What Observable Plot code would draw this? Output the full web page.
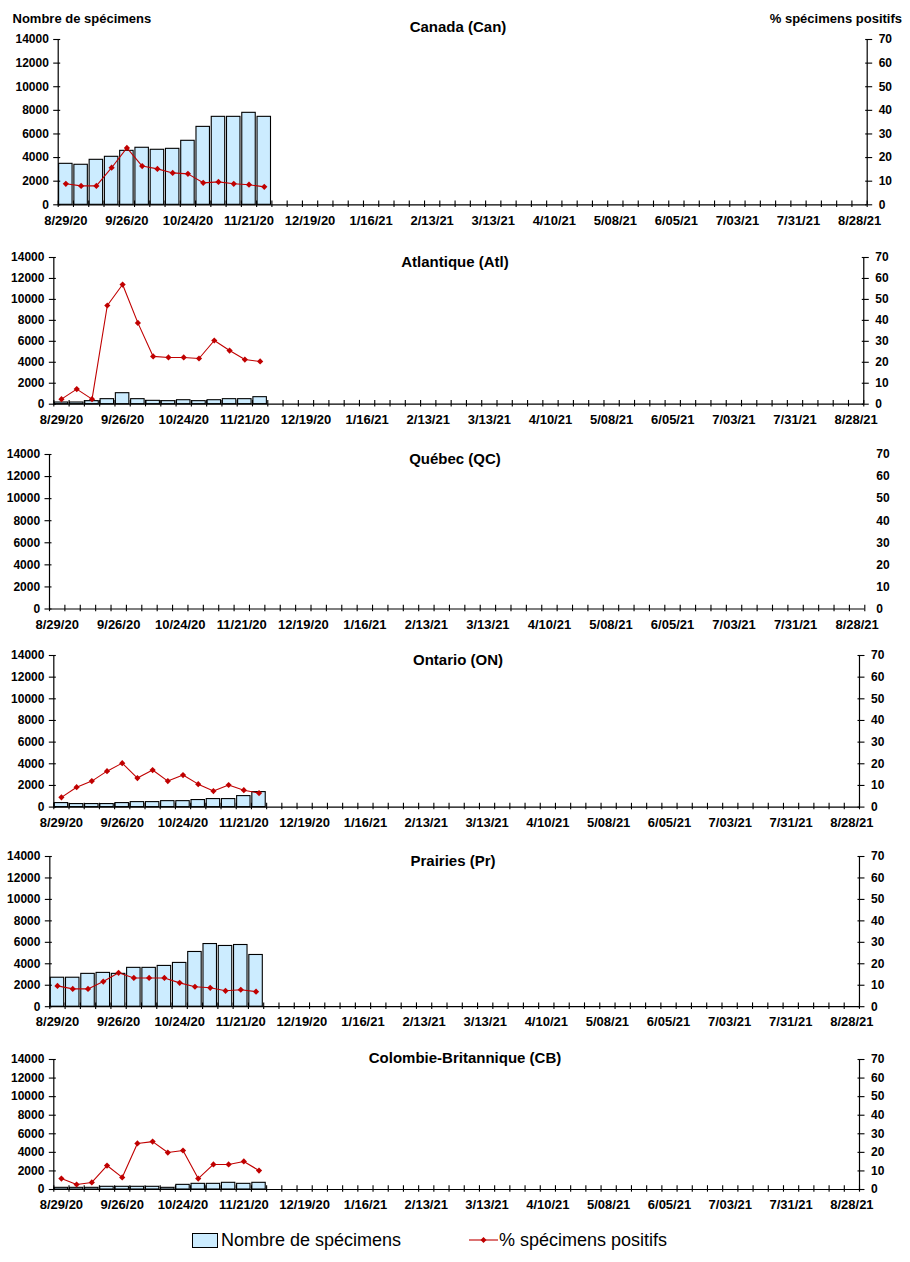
<!DOCTYPE html>
<html><head><meta charset="utf-8">
<script src="https://cdn.jsdelivr.net/npm/d3@7"></script>
<script src="https://cdn.jsdelivr.net/npm/@observablehq/plot@0.6"></script>
<style>
body{margin:0;background:#fff;}
#root{position:relative;width:910px;height:1262px;font-family:"Liberation Sans",Arial,sans-serif;color:#000;overflow:hidden;background:#fff}
.abs{position:absolute;white-space:nowrap;line-height:1}
</style></head><body><div id="root"></div>
<script>
const weeks = ["8/29/20","9/05/20","9/12/20","9/19/20","9/26/20","10/03/20","10/10/20","10/17/20","10/24/20","10/31/20","11/07/20","11/14/20","11/21/20","11/28/20","12/05/20","12/12/20","12/19/20","12/26/20","1/02/21","1/09/21","1/16/21","1/23/21","1/30/21","2/06/21","2/13/21","2/20/21","2/27/21","3/06/21","3/13/21","3/20/21","3/27/21","4/03/21","4/10/21","4/17/21","4/24/21","5/01/21","5/08/21","5/15/21","5/22/21","5/29/21","6/05/21","6/12/21","6/19/21","6/26/21","7/03/21","7/10/21","7/17/21","7/24/21","7/31/21","8/07/21","8/14/21","8/21/21","8/28/21"];
const tickLabels = ["8/29/20","9/26/20","10/24/20","11/21/20","12/19/20","1/16/21","2/13/21","3/13/21","4/10/21","5/08/21","6/05/21","7/03/21","7/31/21","8/28/21"];
const yTicks = [0,2000,4000,6000,8000,10000,12000,14000];
const countMax = 14000;
const pctMax = 70;

const canCounts = [3470,3390,3810,4065,4570,4830,4660,4740,5420,6600,7450,7450,7790,7450];
const canPct    = [8.9,8.0,8.0,15.7,24.1,16.4,15.2,13.5,13.1,9.3,9.7,8.9,8.5,7.6];
const atlCounts = [160,160,290,480,1050,480,320,290,380,290,380,480,480,670];
const atlPct    = [2.4,7.2,2.4,47.1,57.1,38.8,22.8,22.3,22.3,21.8,30.4,25.6,21.3,20.4];
const qcCounts  = [];
const qcPct     = [];
const onCounts  = [370,280,280,280,370,460,460,550,550,650,740,740,1015,1385];
const onPct     = [4.5,9.2,12.0,16.6,20.3,13.4,17.1,12.0,14.8,10.6,7.4,10.2,7.8,6.5];
const prCounts  = [2700,2700,3060,3150,3060,3620,3620,3800,4080,5100,5840,5660,5750,4820];
const prPct     = [9.7,8.3,8.3,11.7,15.8,13.4,13.4,13.4,11.1,9.3,8.8,7.4,7.9,7.0];
const cbCounts  = [180,180,180,290,290,290,290,180,500,610,610,720,610,720];
const cbPct     = [5.9,2.7,3.8,12.9,6.5,24.8,25.8,19.9,21.0,5.9,13.5,13.5,15.1,10.2];

const titles = ["Canada (Can)","Atlantique (Atl)","Québec (QC)","Ontario (ON)","Prairies (Pr)","Colombie-Britannique (CB)"];
const leftTitle = "Nombre de spécimens";
const rightTitle = "% spécimens positifs";
const legendBar = "Nombre de spécimens";
const legendLine = "% spécimens positifs";

const BAR_FILL = "#CCECFF";
const RED = "#C00000";
const FONT = "'Liberation Sans', Arial, sans-serif";

const panels = [
  {title: titles[0], counts: canCounts, pct: canPct, left: 57.7, right: 866.7, top: 39, bottom: 204.3, tx: 458, ty: 32, rightAxis: true},
  {title: titles[1], counts: atlCounts, pct: atlPct, left: 53.3, right: 863.3, top: 257.3, bottom: 404, tx: 455, ty: 267, rightAxis: true},
  {title: titles[2], counts: qcCounts, pct: qcPct, left: 49, right: 864.3, top: 454, bottom: 608.5, tx: 455, ty: 464, rightAxis: false},
  {title: titles[3], counts: onCounts, pct: onPct, left: 53.3, right: 859, top: 654.7, bottom: 806.3, tx: 458, ty: 665, rightAxis: true},
  {title: titles[4], counts: prCounts, pct: prPct, left: 49.3, right: 859, top: 856.3, bottom: 1006.5, tx: 453, ty: 866, rightAxis: true},
  {title: titles[5], counts: cbCounts, pct: cbPct, left: 53.3, right: 859, top: 1059.3, bottom: 1189.3, tx: 465, ty: 1063, rightAxis: true}
];

const root = document.getElementById("root");

function addText(txt, x, baseline, size, weight, anchor) {
  const d = document.createElement("div");
  d.className = "abs";
  d.textContent = txt;
  d.style.fontSize = size + "px";
  d.style.fontWeight = weight;
  d.style.left = x + "px";
  d.style.top = (baseline - 0.8465 * size) + "px";
  if (anchor === "middle") d.style.transform = "translateX(-50%)";
  if (anchor === "end") d.style.transform = "translateX(-100%)";
  root.appendChild(d);
  return d;
}

function makePanel(p) {
  const rows = p.counts.map((v, i) => ({week: weeks[i], i: weeks.indexOf(weeks[i]), count: v, pct: p.pct[i]}));
  const mt = 12, mb = 34;
  const h = mt + (p.bottom - p.top) + mb;
  const toY = d => d.pct * countMax / pctMax;
  const chart = Plot.plot({
    width: 910,
    height: h,
    marginTop: mt,
    marginBottom: mb,
    marginLeft: p.left,
    marginRight: 910 - p.right,
    style: {background: "transparent", overflow: "visible", fontFamily: FONT, color: "#000"},
    x: {type: "linear", domain: [0, weeks.length], label: null},
    y: {type: "linear", domain: [0, countMax], label: null},
    marks: [
      Plot.rect(rows, {x1: d => d.i, x2: d => d.i + 1, y1: 0, y2: "count", insetLeft: 0.9, insetRight: 0.9, fill: BAR_FILL, stroke: "#000", strokeWidth: 1.1}),
      Plot.ruleY([0], {stroke: "#000", strokeWidth: 1.2}),
      Plot.ruleX([0], {stroke: "#000", strokeWidth: 1.2}),
      p.rightAxis ? Plot.ruleX([weeks.length], {stroke: "#000", strokeWidth: 1.2}) : null,
      Plot.axisX({ticks: d3.range(0, weeks.length + 1), tickSize: 6.5, dy: -3.8, fill: "none", stroke: "#000", strokeWidth: 1.1, label: null}),
      Plot.axisX({ticks: tickLabels.map(w => weeks.indexOf(w) + 0.5), tickFormat: v => weeks[Math.floor(v)], tickSize: 0, tickPadding: 10.5, fontSize: 13, fontWeight: "bold", fill: "#000", label: null}),
      Plot.axisY({ticks: yTicks, tickSize: 7, dx: 2.5, fill: "none", stroke: "#000", strokeWidth: 1.1, label: null}),
      Plot.axisY({ticks: yTicks, tickSize: 0, tickPadding: 9.4, tickFormat: v => String(v), fontSize: 12, fontWeight: "bold", fill: "#000", label: null}),
      p.rightAxis ? Plot.axisY({anchor: "right", ticks: yTicks, tickSize: 7, dx: -2.5, fill: "none", stroke: "#000", strokeWidth: 1.1, label: null}) : null,
      Plot.axisY({anchor: "right", ticks: yTicks, tickSize: 0, tickPadding: 11.5, tickFormat: v => String(v * pctMax / countMax), fontSize: 12, fontWeight: "bold", fill: "#000", label: null}),
      Plot.line(rows, {x: d => d.i + 0.5, y: toY, stroke: RED, strokeWidth: 1.1}),
      Plot.dot(rows, {x: d => d.i + 0.5, y: toY, symbol: "diamond2", r: 2.8, fill: RED, stroke: "none"})
    ]
  });
  chart.style.position = "absolute";
  chart.style.left = "0px";
  chart.style.top = (p.top - mt) + "px";
  root.appendChild(chart);
  addText(p.title, p.tx, p.ty, 15, "bold", "middle");
}

panels.forEach(makePanel);

addText(leftTitle, 12.5, 23.5, 13, "bold", "start");
addText(rightTitle, 902, 23.5, 13, "bold", "end");

// Legend
const box = document.createElement("div");
box.style.cssText = `position:absolute;left:192px;top:1233px;width:24px;height:13px;background:${BAR_FILL};border:1px solid #000;`;
root.appendChild(box);
addText(legendBar, 221, 1246, 18, "normal", "start");
const ns = "http://www.w3.org/2000/svg";
const lsvg = document.createElementNS(ns, "svg");
lsvg.setAttribute("width", 32); lsvg.setAttribute("height", 12);
lsvg.style.cssText = "position:absolute;left:468px;top:1234px;";
const ln = document.createElementNS(ns, "line");
ln.setAttribute("x1", 1); ln.setAttribute("x2", 30); ln.setAttribute("y1", 6); ln.setAttribute("y2", 6);
ln.setAttribute("stroke", RED); ln.setAttribute("stroke-width", 1.1);
lsvg.appendChild(ln);
const dm = document.createElementNS(ns, "path");
dm.setAttribute("d", "M15.5,3 L18.5,6 L15.5,9 L12.5,6 Z");
dm.setAttribute("fill", RED);
lsvg.appendChild(dm);
root.appendChild(lsvg);
addText(legendLine, 499, 1246, 18, "normal", "start");
</script>
</body></html>
